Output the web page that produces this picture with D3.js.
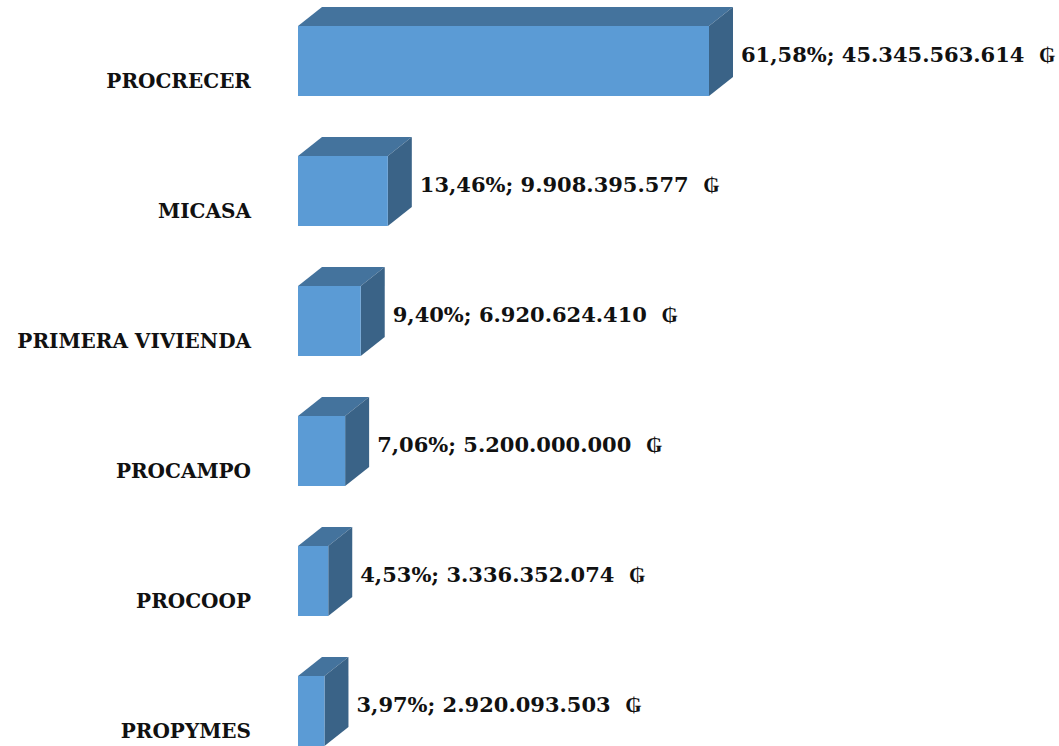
<!DOCTYPE html>
<html>
<head>
<meta charset="utf-8">
<script src="https://cdn.jsdelivr.net/npm/d3@7"></script>
<style>
  body { margin: 0; background: #fff; }
  svg { display: block; }
  text { font-family: "DejaVu Serif", serif; font-weight: bold; fill: #111; white-space: pre; }
</style>
</head>
<body>
<div id="chart"></div>
<script>
// programas y montos (guaraníes)
var categories = ["PROCRECER", "MICASA", "PRIMERA VIVIENDA", "PROCAMPO", "PROCOOP", "PROPYMES"];
var amounts = [45345563614, 9908395577, 6920624410, 5200000000, 3336352074, 2920093503];
var percents = ["61,58%", "13,46%", "9,40%", "7,06%", "4,53%", "3,97%"];
var amountLabels = ["45.345.563.614", "9.908.395.577", "6.920.624.410", "5.200.000.000", "3.336.352.074", "2.920.093.503"];

var W = 1059, H = 746;
var depthX = 24, depthY = 19;

var svg = d3.select("#chart").append("svg")
  .attr("width", W).attr("height", H);

var x = d3.scaleLinear()
  .domain([0, d3.max(amounts)])
  .range([298, 709]);

var y = d3.scaleBand()
  .domain(categories)
  .range([26, 746])
  .paddingInner(60 / 130)
  .paddingOuter(0);

var rows = categories.map(function (c, i) {
  return { name: c, value: amounts[i], pct: percents[i], amt: amountLabels[i] };
});

var g = svg.selectAll("g.bar").data(rows).enter()
  .append("g").attr("class", "bar");

// top face
g.append("path")
  .attr("fill", "#44739d")
  .attr("d", function (d) {
    var x0 = x(0), x1 = x(d.value), y0 = y(d.name);
    return "M" + x0 + "," + y0 + "L" + (x0 + depthX) + "," + (y0 - depthY) +
      "L" + (x1 + depthX) + "," + (y0 - depthY) + "L" + x1 + "," + y0 + "Z";
  });

// right side
g.append("path")
  .attr("fill", "#3a6387")
  .attr("d", function (d) {
    var x1 = x(d.value), y0 = y(d.name), y1 = y0 + y.bandwidth();
    return "M" + x1 + "," + y0 + "L" + (x1 + depthX) + "," + (y0 - depthY) +
      "L" + (x1 + depthX) + "," + (y1 - depthY) + "L" + x1 + "," + y1 + "Z";
  });

// front face
g.append("rect")
  .attr("fill", "#5b9bd5")
  .attr("x", x(0))
  .attr("y", function (d) { return y(d.name); })
  .attr("width", function (d) { return x(d.value) - x(0); })
  .attr("height", y.bandwidth());

// data labels
g.append("text")
  .attr("x", function (d) { return x(d.value) + depthX + 8; })
  .attr("y", function (d) { return y(d.name) + y.bandwidth() / 2 + 1; })
  .style("font-size", "21px")
  .text(function (d) { return d.pct + "; " + d.amt + "  \u20B2"; });

// category labels
g.append("text")
  .attr("x", 251)
  .attr("y", function (d) { return y(d.name) + y.bandwidth() / 2 + 27; })
  .attr("text-anchor", "end")
  .style("font-size", "20px")
  .text(function (d) { return d.name; });
</script>
</body>
</html>
